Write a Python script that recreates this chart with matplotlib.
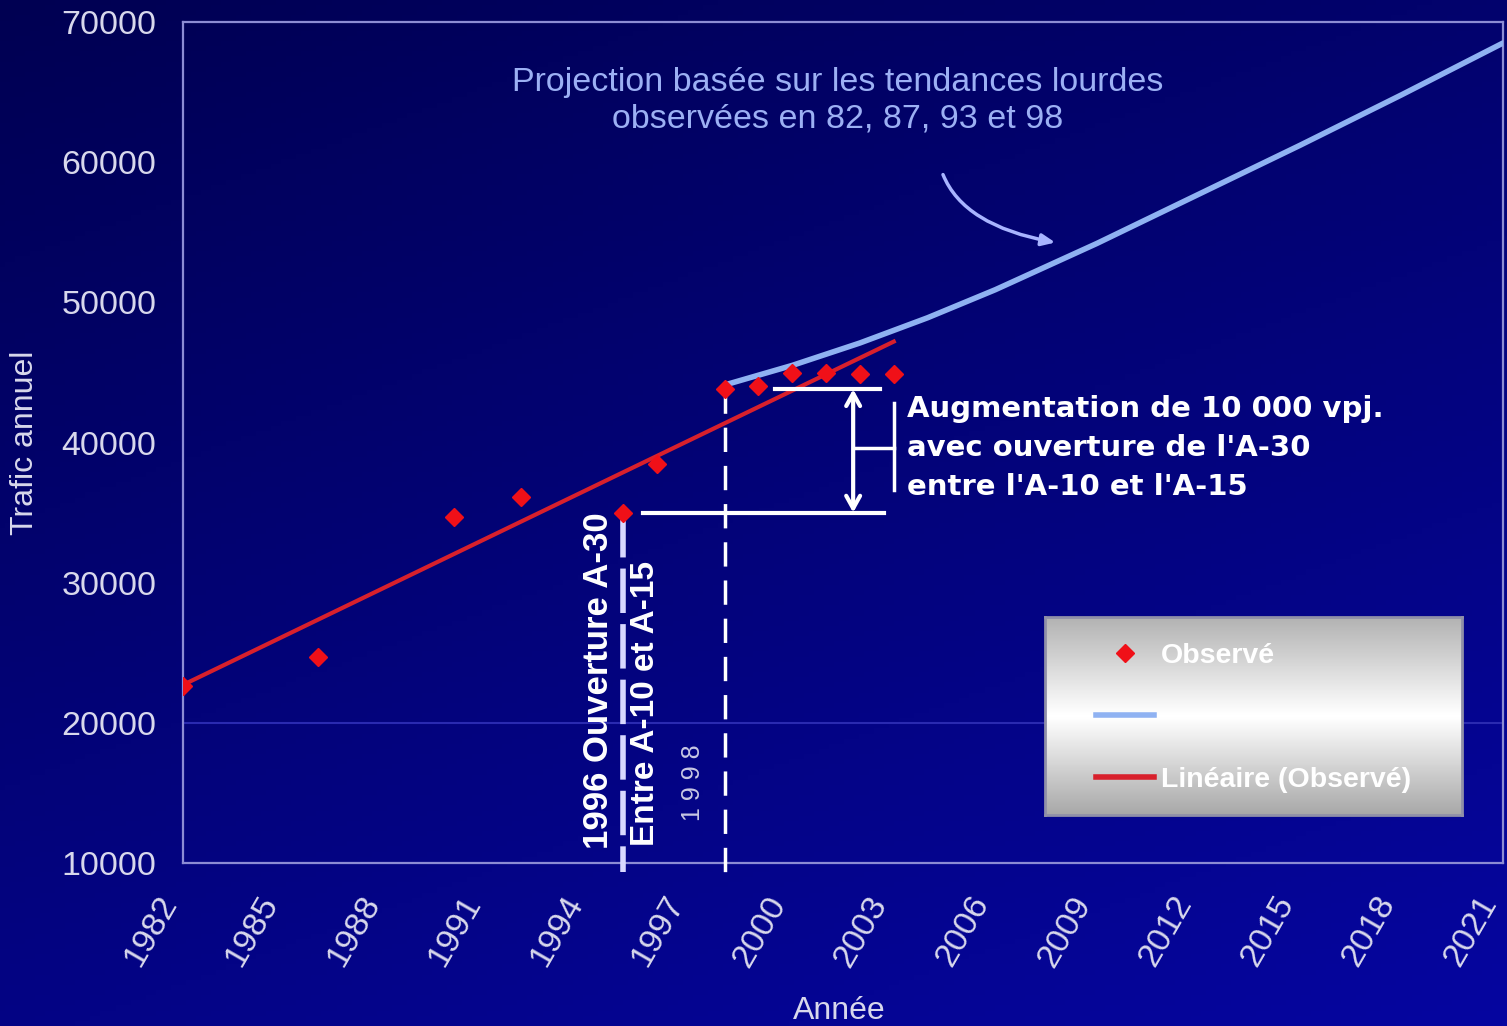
import numpy as np
import matplotlib
matplotlib.use("Agg")
import matplotlib.pyplot as plt
from matplotlib.lines import Line2D

plt.rcParams["font.family"] = "Liberation Sans"

# observed annual traffic (vehicles per day)
obs_years = [1982, 1986, 1990, 1992, 1995, 1996, 1998, 1999, 2000, 2001, 2002, 2003]
obs_traffic = [22600, 24700, 34700, 36100, 35000, 38500, 43800, 44000, 44950, 44950, 44900, 44900]

# projection based on the heavy trends
proj_years = [1998, 2000, 2002, 2004, 2006, 2009, 2012, 2015, 2018, 2021]
proj_traffic = [44100, 45500, 47100, 48900, 50900, 54200, 57700, 61200, 64800, 68500]

x_ticks = list(range(1982, 2022, 3))
y_ticks = [10000, 20000, 30000, 40000, 50000, 60000, 70000]

W, H = 1507, 1026
fig = plt.figure(figsize=(W / 100, H / 100), dpi=100)
fig.patch.set_facecolor("#000070")

# dark navy slide background
bg = fig.add_axes([0, 0, 1, 1], zorder=-10)
v = np.linspace(0, 1, 200)[:, None]
u = np.linspace(0, 1, 300)[None, :]
t = 0.65 * v + 0.35 * u
c0 = np.array([0x00, 0x00, 0x52]) / 255
c1 = np.array([0x06, 0x06, 0xa0]) / 255
grad = c0[None, None, :] * (1 - t[..., None]) + c1[None, None, :] * t[..., None]
bg.imshow(grad, aspect="auto", extent=[0, 1, 0, 1])
bg.axis("off")

ax = fig.add_axes([183 / W, 1 - 863 / H, 1320 / W, 841 / H])
ax.set_facecolor("none")
ax.set_xlim(1982, 2021)
ax.set_ylim(10000, 70000)

for s in ax.spines.values():
    s.set_color("#8c8cd4")
    s.set_linewidth(1.6)

ax.axhline(20000, color="#2a2ab0", lw=1.5, zorder=0)

txt_col = "#d8d8ec"
ax.set_xticks(x_ticks)
ax.set_xticklabels([str(y) for y in x_ticks], rotation=60, ha="right", va="top")
ax.set_yticks(y_ticks)
ax.tick_params(axis="x", length=0, pad=20, labelsize=24.5, labelcolor=txt_col)
ax.tick_params(axis="y", length=0, pad=19, labelsize=24.5, labelcolor=txt_col)
ax.set_xlabel("Année", fontsize=23, color=txt_col)
ax.set_ylabel("Trafic annuel", fontsize=23, color=txt_col)
ax.xaxis.set_label_coords(0.497, -0.158)
ax.yaxis.set_label_coords(-0.108, 0.5)

# linear trend of observed values
coef = np.polyfit(obs_years, obs_traffic, 1)
trend_x = np.array([obs_years[0], obs_years[-1]])
ax.plot(trend_x, np.polyval(coef, trend_x), color="#d8202c", lw=3, zorder=3)

ax.plot(proj_years, proj_traffic, color="#8fb2f2", lw=4, zorder=4,
        solid_capstyle="round", solid_joinstyle="round")
ax.plot(obs_years, obs_traffic, ls="none", marker="D", ms=9,
        color="#f01018", mec="#f01018", zorder=5)

# opening year markers
ax.plot([obs_years[4], obs_years[4]], [obs_traffic[4], 9350], color="#d8d8ff",
        lw=4, dashes=(8, 2), clip_on=False, zorder=4)
ax.plot([obs_years[6], obs_years[6]], [obs_traffic[6], 9150], color="white",
        lw=2.5, dashes=(7, 4), clip_on=False, zorder=4)

# gap of 10 000 vpj
ax.plot([1999.5, 2002.6], [obs_traffic[6], obs_traffic[6]], color="white", lw=3, zorder=6)
ax.plot([1995.6, 2002.7], [obs_traffic[4], obs_traffic[4]], color="white", lw=3, zorder=6)
ax.annotate("", xy=(2001.8, obs_traffic[6]), xytext=(2001.8, obs_traffic[4]),
            arrowprops=dict(arrowstyle="<->,head_length=0.9,head_width=0.5",
                            color="white", lw=3, shrinkA=0, shrinkB=0), zorder=6)
ax.plot([2003.0, 2003.0], [36600, 42800], color="white", lw=2.5, zorder=6)
ax.plot([2001.85, 2003.0], [39600, 39600], color="white", lw=2.5, zorder=6)

fig.text(838 / W, 1 - 101 / H,
         "Projection basée sur les tendances lourdes\nobservées en 82, 87, 93 et 98",
         ha="center", va="center", fontsize=24.5, color="#9cb0f4", linespacing=1.22)
ax.annotate("", xy=(1058 / W, 1 - 243 / H), xytext=(942 / W, 1 - 172 / H),
            xycoords="figure fraction", textcoords="figure fraction",
            arrowprops=dict(arrowstyle="-|>,head_length=0.8,head_width=0.35",
                            color="#a8b4ff", lw=2.5,
                            connectionstyle="angle3,angleA=-70,angleB=-10"))

fig.text(907 / W, 1 - 448 / H,
         "Augmentation de 10 000 vpj.\navec ouverture de l'A-30\nentre l'A-10 et l'A-15",
         ha="left", va="center", fontsize=21, color="white", fontweight="bold",
         family="DejaVu Sans", linespacing=1.5)

fig.text(598 / W, 1 - 681 / H, "1996 Ouverture A-30", rotation=90,
         ha="center", va="center", fontsize=25, color="white", fontweight="bold")
fig.text(645 / W, 1 - 703 / H, "Entre A-10 et A-15", rotation=90,
         ha="center", va="center", fontsize=24, color="white", fontweight="bold")
fig.text(693 / W, 1 - 783 / H, "1 9 9 8", rotation=90,
         ha="center", va="center", fontsize=18, color="#c8c8e4")

# legend on a silver gradient panel
lg = fig.add_axes([1045 / W, 1 - 815 / H, 417 / W, 198 / H], zorder=5)
g = np.concatenate([np.linspace(0.70, 1.0, 50), np.linspace(1.0, 0.66, 50)])
lg.imshow(np.repeat(g[:, None], 10, axis=1), cmap="gray", vmin=0, vmax=1,
          aspect="auto", extent=[0, 1, 0, 1])
lg.set_xticks([])
lg.set_yticks([])
for s in lg.spines.values():
    s.set_color("#9090a8")
    s.set_linewidth(2)
handles = [Line2D([], [], ls="none", marker="D", ms=9, color="#f01018"),
           Line2D([], [], color="#8fb2f2", lw=4),
           Line2D([], [], color="#d8202c", lw=4)]
lg.legend(handles, ["Observé", "", "Linéaire (Observé)"], loc="center left",
          bbox_to_anchor=(0.122, 0.49), frameon=False, borderpad=0,
          borderaxespad=0, labelcolor="white", handlelength=2.05,
          handletextpad=0.25, labelspacing=1.27,
          prop={"weight": "bold", "size": 20.5})

fig.savefig("out.png", dpi=100)
